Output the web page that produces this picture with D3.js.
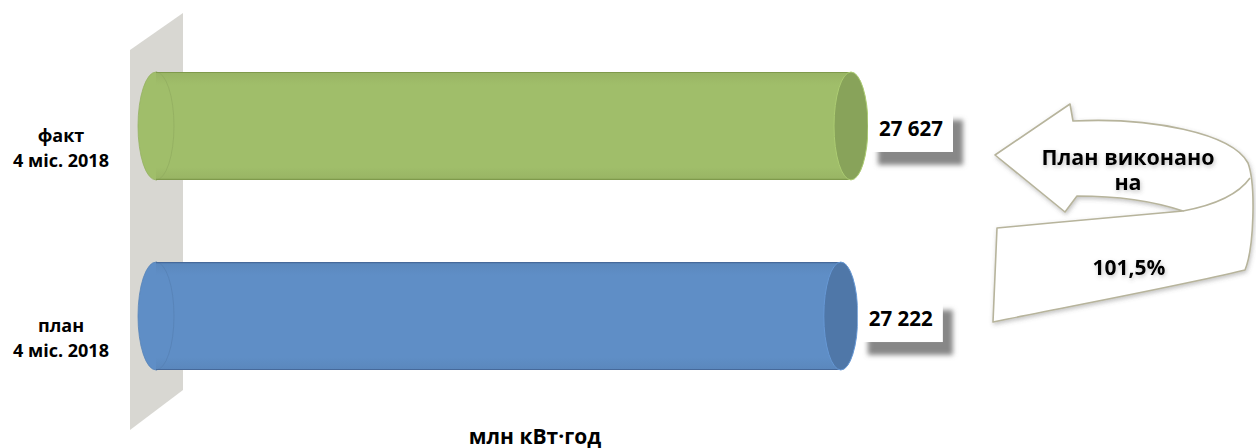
<!DOCTYPE html>
<html>
<head>
<meta charset="utf-8">
<script src="https://cdn.jsdelivr.net/npm/d3@7"></script>
<style>
  body { margin: 0; background: #fff; }
  text { font-family: "Open Sans", "DejaVu Sans", sans-serif; font-weight: bold; fill: #000; }
</style>
</head>
<body>
<script>
const width = 1256;
const height = 448;

// data
const categories = ["факт", "план"];
const periods = ["4 міс. 2018", "4 міс. 2018"];
const values = [27627, 27222];
const unitLabel = "млн кВт·год";
const noteLines = ["План виконано", "на"];

const fills = ["#a0be6a", "#5f8ec6"];
const capFills = ["#88a35a", "#4f77a8"];
const edgeFills = ["#7f9a4c", "#46699a"];

const svg = d3.select("body")
    .append("svg")
    .attr("width", width)
    .attr("height", height);

const defs = svg.append("defs");

// shadow for value boxes
const boxShadow = defs.append("filter")
    .attr("id", "boxShadow")
    .attr("x", "-20%").attr("y", "-20%")
    .attr("width", "160%").attr("height", "180%");
boxShadow.append("feDropShadow")
    .attr("dx", 10).attr("dy", 13)
    .attr("stdDeviation", 2.5)
    .attr("flood-color", "#7a7a7a")
    .attr("flood-opacity", 0.9);

// soft glow for arrow and its texts
const softShadow = defs.append("filter")
    .attr("id", "softShadow")
    .attr("x", "-20%").attr("y", "-30%")
    .attr("width", "140%").attr("height", "160%");
softShadow.append("feDropShadow")
    .attr("dx", 1).attr("dy", 2)
    .attr("stdDeviation", 2)
    .attr("flood-color", "#555")
    .attr("flood-opacity", 0.35);

// scales
const x = d3.scaleLinear()
    .domain([0, d3.max(values)])
    .range([156, 851]);

const y = d3.scaleBand()
    .domain(categories)
    .range([34, 408])
    .paddingInner(0.432)
    .paddingOuter(0.2);

const bw = y.bandwidth();
const rxLeft = 18;
const rxRight = 17;

// back wall
const x0 = x(0);
svg.append("path")
    .attr("d", `M${x0 - 26},50 L${x0 + 27},13 L${x0 + 27},390 L${x0 - 26},430 Z`)
    .attr("fill", "#d8d7d2");

// cylinders
const bars = svg.selectAll(".bar")
    .data(values)
    .join("g")
    .attr("class", "bar");

bars.each(function (d, i) {
    const g = d3.select(this);
    const top = y(categories[i]);
    const cy = top + bw / 2;
    const x1 = x(d);

    // vertical shading for body
    const grad = defs.append("linearGradient")
        .attr("id", "body" + i)
        .attr("x1", 0).attr("y1", 0).attr("x2", 0).attr("y2", 1);
    grad.append("stop").attr("offset", "0%").attr("stop-color", d3.color(fills[i]).darker(0.15));
    grad.append("stop").attr("offset", "12%").attr("stop-color", fills[i]);
    grad.append("stop").attr("offset", "88%").attr("stop-color", fills[i]);
    grad.append("stop").attr("offset", "100%").attr("stop-color", d3.color(fills[i]).darker(0.15));

    // left end (front half of ellipse)
    g.append("ellipse")
        .attr("cx", x0).attr("cy", cy)
        .attr("rx", rxLeft).attr("ry", bw / 2)
        .attr("fill", fills[i])
        .attr("stroke", d3.color(fills[i]).darker(0.2))
        .attr("stroke-width", 0.8);

    g.append("rect")
        .attr("x", x0).attr("y", top)
        .attr("width", x1 - x0).attr("height", bw)
        .attr("fill", `url(#body${i})`);

    // rim of the left end
    g.append("path")
        .attr("d", `M${x0},${top} A${rxLeft},${bw / 2} 0 0 1 ${x0},${top + bw}`)
        .attr("fill", "none")
        .attr("stroke", d3.color(fills[i]).darker(0.35))
        .attr("stroke-opacity", 0.6)
        .attr("stroke-width", 1);

    // top and bottom edges
    g.append("line")
        .attr("x1", x0).attr("x2", x1)
        .attr("y1", top + 0.5).attr("y2", top + 0.5)
        .attr("stroke", edgeFills[i]).attr("stroke-width", 1.2);
    g.append("line")
        .attr("x1", x0).attr("x2", x1)
        .attr("y1", top + bw - 0.5).attr("y2", top + bw - 0.5)
        .attr("stroke", edgeFills[i]).attr("stroke-width", 1.2);

    // right end cap
    g.append("ellipse")
        .attr("cx", x1).attr("cy", cy)
        .attr("rx", rxRight).attr("ry", bw / 2)
        .attr("fill", capFills[i])
        .attr("stroke", d3.color(fills[i]).brighter(0.2))
        .attr("stroke-width", 1);
});

// value boxes
const fmt = d3.formatLocale({decimal: ",", thousands: " ", grouping: [3], currency: ["", ""]});
const numFmt = fmt.format(",d");
const pctFmt = fmt.format(",.1f");

const labels = svg.selectAll(".vlabel")
    .data(values)
    .join("g")
    .attr("class", "vlabel")
    .attr("transform", (d, i) => `translate(${x(d) + rxRight},${y(categories[i]) + bw / 2 + 3})`);

labels.append("rect")
    .attr("x", 0).attr("y", -22)
    .attr("width", 85).attr("height", 45)
    .attr("fill", "#fff")
    .attr("filter", "url(#boxShadow)");

labels.append("text")
    .attr("x", 43)
    .attr("y", 0)
    .attr("dy", "0.36em")
    .attr("text-anchor", "middle")
    .style("font-size", "20.5px")
    .text(d => numFmt(d));

// category labels
const cats = svg.selectAll(".cat")
    .data(categories)
    .join("text")
    .attr("class", "cat")
    .attr("text-anchor", "middle")
    .style("font-size", "18px")
    .attr("x", 61)
    .attr("y", d => y(d) + bw / 2 + 16);
cats.append("tspan").text(d => d);
cats.append("tspan")
    .attr("x", 61)
    .attr("dy", 25)
    .text((d, i) => periods[i]);

// unit title
svg.append("text")
    .attr("x", 535)
    .attr("y", 444)
    .attr("text-anchor", "middle")
    .style("font-size", "21px")
    .text(unitLabel);

// curved arrow with the plan completion
const arrow = svg.append("g").attr("filter", "url(#softShadow)");
arrow.append("path")
    .attr("d", "M995,155 L1070,104 L1073,121 C1150,117 1232,133 1248,163 C1256,185 1254,248 1245,270 " +
        "C1170,288 1060,308 993,322 L997,228 C1060,222 1130,216 1183,211 " +
        "C1150,200 1110,196 1077,196 L1065,212 Z")
    .attr("fill", "#fff")
    .attr("stroke", "#b7b49c")
    .attr("stroke-width", 1.6)
    .attr("stroke-linejoin", "round");
arrow.append("path")
    .attr("d", "M1183,211 C1215,205 1238,195 1250,178")
    .attr("fill", "none")
    .attr("stroke", "#b7b49c")
    .attr("stroke-width", 1.6);

const note = svg.append("g").attr("filter", "url(#softShadow)");
note.append("text")
    .attr("x", 1128)
    .attr("y", 165)
    .attr("text-anchor", "middle")
    .style("font-size", "21.5px")
    .selectAll("tspan")
    .data(noteLines)
    .join("tspan")
    .attr("x", 1128)
    .attr("dy", (d, i) => i ? 25 : 0)
    .text(d => d);

note.append("text")
    .attr("x", 1129)
    .attr("y", 275)
    .attr("text-anchor", "middle")
    .style("font-size", "21px")
    .text(pctFmt(values[0] / values[1] * 100) + "%");
</script>
</body>
</html>
